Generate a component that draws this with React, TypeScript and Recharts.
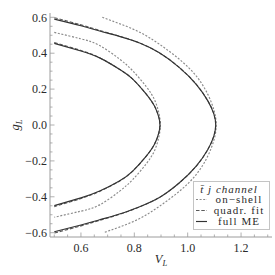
import React from 'react';
import { ComposedChart, Line, XAxis, YAxis, Legend } from 'recharts';

// ---- axes ----
const X_DOMAIN: [number, number] = [0.484, 1.316];
const Y_DOMAIN: [number, number] = [-0.624, 0.624];
const X_MAJOR = [0.6, 0.8, 1.0, 1.2];
const X_TICKS = [0.5, 0.55, 0.6, 0.65, 0.7, 0.75, 0.8, 0.85, 0.9, 0.95, 1.0, 1.05, 1.1, 1.15, 1.2, 1.25, 1.3];
const Y_MAJOR = [-0.6, -0.4, -0.2, 0.0, 0.2, 0.4, 0.6];
const Y_TICKS = [-0.6, -0.55, -0.5, -0.45, -0.4, -0.35, -0.3, -0.25, -0.2, -0.15, -0.1, -0.05, 0.0, 0.05, 0.1, 0.15, 0.2, 0.25, 0.3, 0.35, 0.4, 0.45, 0.5, 0.55, 0.6];

// ---- contour points [V_L, g_L] ----
const outerFullME: [number, number][] = [
  [0.500, 0.590], [0.600, 0.553], [0.670, 0.524], [0.744, 0.494], [0.820, 0.457], [0.894, 0.402],
  [0.969, 0.320], [1.032, 0.227], [1.075, 0.136], [1.098, 0.062], [1.105, 0.000],
  [1.098, -0.062], [1.075, -0.138], [1.032, -0.229], [0.969, -0.322], [0.894, -0.404],
  [0.820, -0.455], [0.744, -0.496], [0.670, -0.528], [0.600, -0.557], [0.500, -0.595],
];
const outerQuadFit: [number, number][] = [
  [0.500, 0.598], [0.600, 0.558], [0.670, 0.527], [0.744, 0.495], [0.820, 0.457], [0.894, 0.402],
  [0.969, 0.320], [1.032, 0.227], [1.075, 0.136], [1.098, 0.062], [1.105, 0.000],
  [1.098, -0.062], [1.075, -0.138], [1.032, -0.229], [0.969, -0.322], [0.894, -0.404],
  [0.820, -0.456], [0.744, -0.498], [0.670, -0.531], [0.600, -0.562], [0.500, -0.602],
];
const outerOnShell: [number, number][] = [
  [0.680, 0.600], [0.744, 0.565], [0.820, 0.517], [0.894, 0.450], [0.969, 0.366], [1.032, 0.273],
  [1.075, 0.172], [1.099, 0.080], [1.107, 0.000], [1.099, -0.080], [1.075, -0.174], [1.032, -0.276],
  [0.969, -0.369], [0.894, -0.453], [0.820, -0.521], [0.744, -0.569], [0.684, -0.600],
];
const innerFullME: [number, number][] = [
  [0.500, 0.455], [0.600, 0.412], [0.670, 0.374], [0.744, 0.311], [0.794, 0.256], [0.844, 0.173],
  [0.876, 0.104], [0.892, 0.042], [0.896, 0.000], [0.892, -0.042], [0.876, -0.106], [0.844, -0.175],
  [0.794, -0.257], [0.744, -0.312], [0.670, -0.368], [0.600, -0.406], [0.500, -0.449],
];
const innerQuadFit: [number, number][] = [
  [0.500, 0.460], [0.600, 0.415], [0.670, 0.375], [0.744, 0.311], [0.794, 0.256], [0.844, 0.173],
  [0.876, 0.104], [0.892, 0.042], [0.896, 0.000], [0.892, -0.042], [0.876, -0.106], [0.844, -0.175],
  [0.794, -0.257], [0.744, -0.313], [0.670, -0.370], [0.600, -0.410], [0.500, -0.455],
];
const innerOnShell: [number, number][] = [
  [0.500, 0.516], [0.600, 0.480], [0.670, 0.443], [0.744, 0.368], [0.794, 0.302], [0.844, 0.215],
  [0.876, 0.140], [0.892, 0.066], [0.898, 0.000], [0.892, -0.066], [0.876, -0.142], [0.844, -0.218],
  [0.794, -0.304], [0.744, -0.370], [0.670, -0.445], [0.600, -0.480], [0.500, -0.514],
];

// ---- legend entries ----
const LEGEND_TITLE = 'channel';
const LEGEND_LABELS = ['on\u2212shell', 'quadr. fit', 'full ME'];

// ---- styles ----
const FRAME = '#9c9c9c';
const TEXT = '#2a2a2a';
const FONT = "'Liberation Serif', 'Times New Roman', serif";
const SOLID = { stroke: '#333333', strokeWidth: 1.15 };
const DASHED = { stroke: '#5a5a5a', strokeWidth: 1.1, strokeDasharray: '3.5 1.8' };
const DOTTED = { stroke: '#8a8a8a', strokeWidth: 1.15, strokeDasharray: '2 1.6' };

const toRows = (pts: [number, number][]) => pts.map(([v, g]) => ({ v, g }));
const isMajor = (val: number, majors: number[]) => majors.some((m) => Math.abs(m - val) < 1e-6);
const fmt = (val: number) => {
  const s = Math.abs(val) < 1e-9 ? '0.0' : val.toFixed(1);
  return s.replace('-', '\u2212');
};

const MAJOR_LEN = 4.5;
const MINOR_LEN = 2.5;
const tickText = { fontFamily: FONT, fontSize: 12, fill: TEXT } as const;

const BottomTick = (props: any) => {
  const { x, y, payload } = props;
  const major = isMajor(payload.value, X_MAJOR);
  return (
    <g>
      <line x1={x} x2={x} y1={y} y2={y - (major ? MAJOR_LEN : MINOR_LEN)} stroke={FRAME} strokeWidth={0.8} />
      {major && (
        <text x={x} y={y + 15} textAnchor="middle" style={tickText}>
          {fmt(payload.value)}
        </text>
      )}
    </g>
  );
};
const TopTick = (props: any) => {
  const { x, y, payload } = props;
  const major = isMajor(payload.value, X_MAJOR);
  return <line x1={x} x2={x} y1={y} y2={y + (major ? MAJOR_LEN : MINOR_LEN)} stroke={FRAME} strokeWidth={0.8} />;
};
const LeftTick = (props: any) => {
  const { x, y, payload } = props;
  const major = isMajor(payload.value, Y_MAJOR);
  return (
    <g>
      <line x1={x} x2={x + (major ? MAJOR_LEN : MINOR_LEN)} y1={y} y2={y} stroke={FRAME} strokeWidth={0.8} />
      {major && (
        <text x={x - 3} y={y} dy="0.35em" textAnchor="end" style={tickText}>
          {fmt(payload.value)}
        </text>
      )}
    </g>
  );
};
const RightTick = (props: any) => {
  const { x, y, payload } = props;
  const major = isMajor(payload.value, Y_MAJOR);
  return <line x1={x} x2={x - (major ? MAJOR_LEN : MINOR_LEN)} y1={y} y2={y} stroke={FRAME} strokeWidth={0.8} />;
};

const axisTitle = { fontFamily: FONT, fontSize: 12.5, fontStyle: 'italic', fill: TEXT } as const;

const XLabel = (props: any) => {
  const vb = props.viewBox || {};
  return (
    <text x={vb.x + vb.width / 2} y={vb.y + 26} textAnchor="middle" style={axisTitle}>
      V<tspan style={{ fontSize: 8.5 }} dy={2.5}>L</tspan>
    </text>
  );
};
const YLabel = (props: any) => {
  const vb = props.viewBox || {};
  const cx = 15;
  const cy = vb.y + vb.height / 2;
  return (
    <text x={cx} y={cy} transform={`rotate(-90 ${cx} ${cy})`} textAnchor="middle" dy="0.35em" style={axisTitle}>
      g<tspan style={{ fontSize: 8.5 }} dy={2.5}>L</tspan>
    </text>
  );
};

const LegendBox = () => {
  const styles = [DOTTED, DASHED, SOLID];
  const rows = [18.5, 29.5, 40.5];
  return (
    <svg width={77} height={49} style={{ display: 'block' }}>
      <rect x={0.5} y={0.5} width={76} height={48} fill="#ffffff" stroke="#c4c4c4" strokeWidth={1} />
      <text x={36} y={11.5} textAnchor="middle" style={{ fontFamily: FONT, fontSize: 11, fontStyle: 'italic', fill: TEXT, letterSpacing: 1 }}>
        {'t\u0304 j ' + LEGEND_TITLE}
      </text>
      {LEGEND_LABELS.map((lab, i) => (
        <g key={lab}>
          <line x1={3} x2={14} y1={rows[i]} y2={rows[i]} {...styles[i]} />
          <text x={46} y={rows[i]} dy="0.33em" textAnchor="middle" style={{ fontFamily: FONT, fontSize: 11, fill: TEXT, letterSpacing: 1.1 }}>
            {lab}
          </text>
        </g>
      ))}
    </svg>
  );
};

const series = [
  { key: 'oos', data: toRows(outerOnShell), style: DOTTED },
  { key: 'ios', data: toRows(innerOnShell), style: DOTTED },
  { key: 'oqf', data: toRows(outerQuadFit), style: DASHED },
  { key: 'iqf', data: toRows(innerQuadFit), style: DASHED },
  { key: 'ofm', data: toRows(outerFullME), style: SOLID },
  { key: 'ifm', data: toRows(innerFullME), style: SOLID },
];

export default function App() {
  return (
    <div style={{ position: 'absolute', left: 0, top: 0, width: 275, height: 275, background: '#fff', fontFamily: FONT }}>
      <ComposedChart width={275} height={275} margin={{ top: 13, right: 3, bottom: 8, left: 0 }}>
        <XAxis
          xAxisId="b"
          dataKey="v"
          type="number"
          domain={X_DOMAIN}
          allowDataOverflow
          ticks={X_TICKS}
          interval={0}
          tickSize={0}
          tickMargin={0}
          tick={<BottomTick />}
          tickLine={false}
          axisLine={{ stroke: FRAME, strokeWidth: 1 }}
          height={30}
          label={XLabel}
        />
        <XAxis
          xAxisId="t"
          orientation="top"
          type="number"
          domain={X_DOMAIN}
          allowDataOverflow
          ticks={X_TICKS}
          interval={0}
          tickSize={0}
          tickMargin={0}
          tick={<TopTick />}
          tickLine={false}
          axisLine={{ stroke: FRAME, strokeWidth: 1 }}
          height={0}
        />
        <YAxis
          yAxisId="l"
          dataKey="g"
          type="number"
          domain={Y_DOMAIN}
          allowDataOverflow
          ticks={Y_TICKS}
          interval={0}
          tickSize={0}
          tickMargin={0}
          tick={<LeftTick />}
          tickLine={false}
          axisLine={{ stroke: FRAME, strokeWidth: 1 }}
          width={50}
          label={YLabel}
        />
        <YAxis
          yAxisId="r"
          orientation="right"
          type="number"
          domain={Y_DOMAIN}
          allowDataOverflow
          ticks={Y_TICKS}
          interval={0}
          tickSize={0}
          tickMargin={0}
          tick={<RightTick />}
          tickLine={false}
          axisLine={{ stroke: FRAME, strokeWidth: 1 }}
          width={0}
        />
        {series.map((s) => (
          <Line
            key={s.key}
            xAxisId="b"
            yAxisId="l"
            data={s.data}
            dataKey="g"
            type="natural"
            dot={false}
            activeDot={false}
            isAnimationActive={false}
            fill="none"
            {...s.style}
          />
        ))}
        <Legend
          layout="vertical"
          align="center"
          verticalAlign="middle"
          content={() => <LegendBox />}
          wrapperStyle={{ left: 193, top: 181, width: 77, height: 49 }}
        />
      </ComposedChart>
    </div>
  );
}
